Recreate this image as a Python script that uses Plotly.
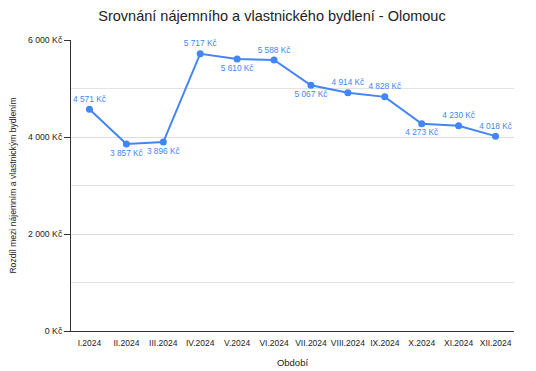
import plotly.graph_objects as go

months = ["I.2024", "II.2024", "III.2024", "IV.2024", "V.2024", "VI.2024",
          "VII.2024", "VIII.2024", "IX.2024", "X.2024", "XI.2024", "XII.2024"]
values = [4571, 3857, 3896, 5717, 5610, 5588, 5067, 4914, 4828, 4273, 4230, 4018]
label_pos = ["top center", "bottom center", "bottom center", "top center", "bottom center",
             "top center", "bottom center", "top center", "top center", "bottom center",
             "top center", "top center"]
y_ticks = [0, 2000, 4000, 6000]


def fmt(v):
    return f"{v:,}".replace(",", " ") + " Kč"


fig = go.Figure()
fig.add_trace(go.Scatter(
    x=months, y=values, mode="lines+markers+text",
    line=dict(color="#4285F4", width=2),
    marker=dict(color="#4285F4", size=7),
    text=[fmt(v) for v in values],
    textposition=label_pos,
    textfont=dict(color="#4285F4", size=8.3),
    cliponaxis=False,
    hoverinfo="skip",
))

fig.update_layout(
    width=528, height=363,
    margin=dict(l=63, r=22, t=32, b=40),
    paper_bgcolor="white", plot_bgcolor="white",
    font=dict(family="Arial, Liberation Sans, sans-serif", color="#222222"),
    showlegend=False,
    title=dict(text="Srovnání nájemního a vlastnického bydlení - Olomouc",
               x=0.5, xanchor="center", y=1.0, yanchor="top", pad=dict(t=3),
               font=dict(size=14.5, color="#222222")),
)
fig.update_xaxes(
    type="category", range=[-0.5, len(months) - 0.5],
    showline=True, linecolor="#333333", linewidth=1,
    showgrid=False, ticks="outside", ticklen=4, tickcolor="rgba(0,0,0,0)",
    tickfont=dict(size=8.5), automargin=False,
    title=dict(text="Období", font=dict(size=9.5), standoff=12),
)
fig.update_yaxes(
    range=[0, 6000], tickvals=y_ticks, ticktext=[fmt(v) for v in y_ticks],
    showline=True, linecolor="#333333", linewidth=1,
    ticks="outside", ticklen=6, tickcolor="#333333",
    showgrid=True, gridcolor="#dcdcdc", gridwidth=1,
    minor=dict(dtick=1000, tick0=0, showgrid=True, gridcolor="#e3e3e3", ticks=""),
    tickfont=dict(size=8.7), zeroline=False, automargin=False,
    title=dict(text="Rozdíl mezi nájemním a vlastnickým bydlením",
               font=dict(size=8.6), standoff=10),
)

fig.write_html("out.html")
